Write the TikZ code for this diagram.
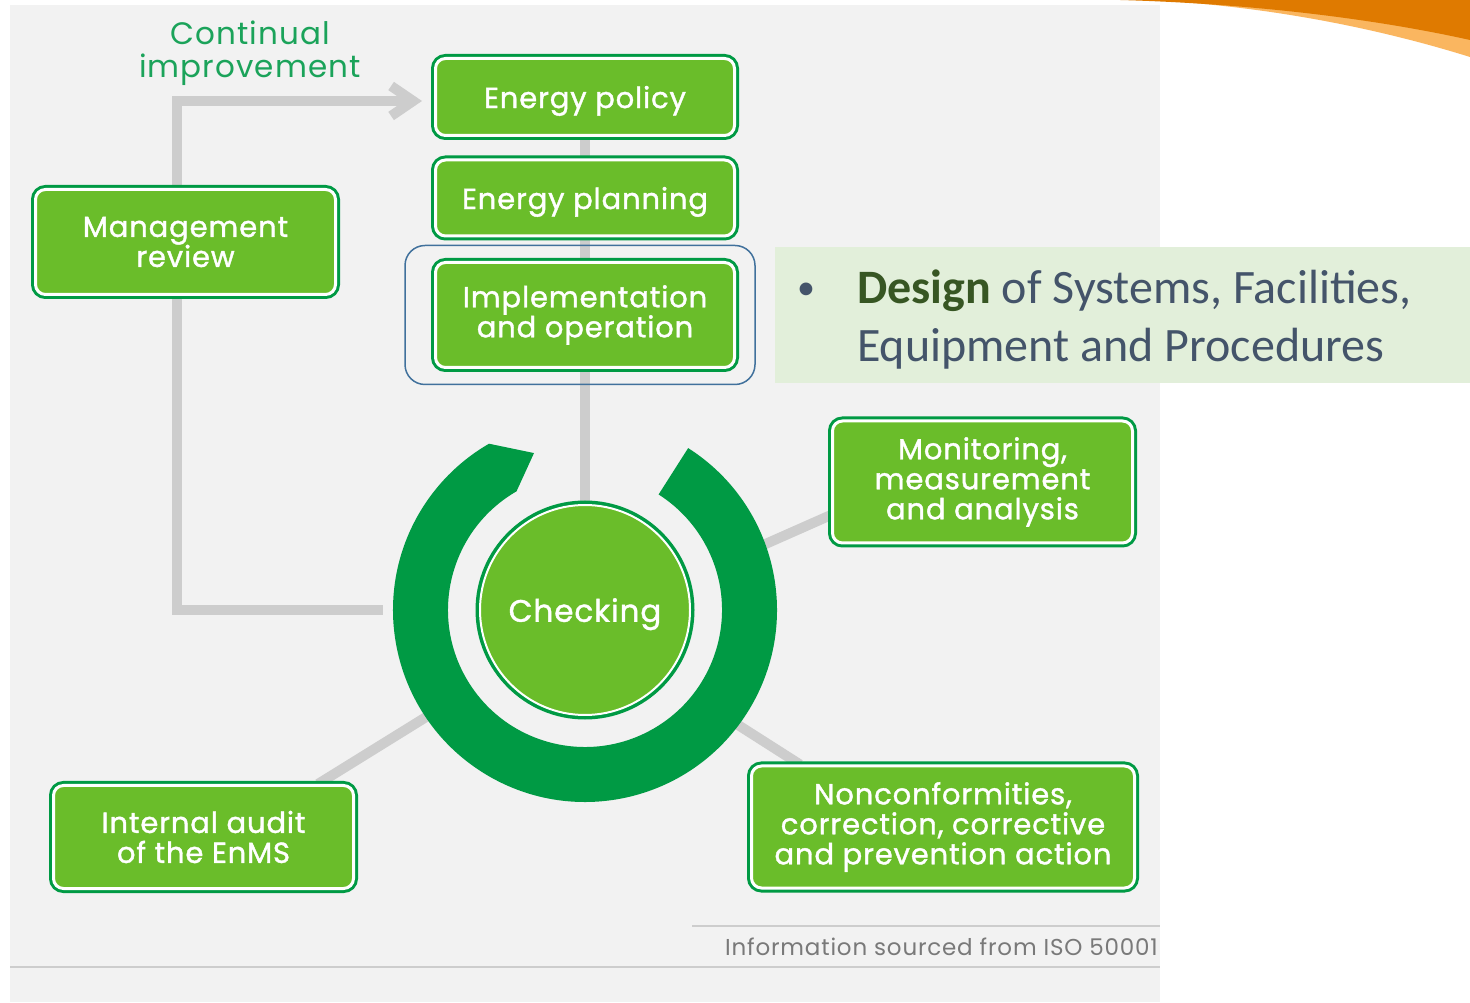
\documentclass[tikz,border=0pt]{standalone}
\usepackage{fontspec}
\setmainfont{Poppins}
\newfontfamily\boxfont{Poppins}[FakeBold=1.3,LetterSpace=3]
\newfontfamily\thinfont{Poppins}[LetterSpace=3.5]
\newfontfamily\slidefont{Carlito}
\usetikzlibrary{calc,arrows.meta,backgrounds}
\definecolor{boxgreen}{HTML}{6ABD2A}
\definecolor{ringgreen}{HTML}{009A44}
\definecolor{panelgray}{HTML}{F2F2F2}
\definecolor{linkgray}{HTML}{CDCDCD}
\definecolor{notegreen}{HTML}{E2EFDA}
\definecolor{olivex}{HTML}{375623}
\definecolor{slatex}{HTML}{44546A}
\definecolor{framex}{HTML}{41719C}
\definecolor{orangex}{HTML}{DF7A00}
\definecolor{lightorangex}{HTML}{FAB660}
\definecolor{labelgreen}{HTML}{1BA35A}
\tikzset{
  stage/.style={preaction={draw=ringgreen,line width=9pt},draw=white,line width=3pt,
    fill=boxgreen,rounded corners=10pt,text=white,align=center,inner sep=0pt,
    font=\boxfont\fontsize{29}{30}\selectfont},
  link/.style={draw=linkgray,line width=10pt},
  rule/.style={draw=linkgray,line width=1.5pt}
}

\begin{document}
\begin{tikzpicture}[x=1pt,y=1pt]
\useasboundingbox (0,0) rectangle (1470,1002);
\begin{scope}[on background layer]
\fill[white] (0,0) rectangle (1470,1002);
\fill[panelgray] (10,0) rectangle (1160,997);
\end{scope}

% orange swoosh, top right
\fill[lightorangex] (1150,1002) .. controls (1280,995) and (1390,970) .. (1470,945) -- (1470,1002) -- cycle;
\fill[orangex] (1120,1002) .. controls (1260,998) and (1380,982) .. (1470,962) -- (1470,1002) -- cycle;

% footer
\draw[rule] (692,76) -- (1160,76);
\draw[rule] (10,35) -- (1160,35);
\node[anchor=base east,text=gray!95!black,inner sep=0pt,font=\thinfont\fontsize{23}{25}\selectfont] (src) at (1158,47) {Information sourced from ISO 50001};

\node[text=labelgreen,align=center,inner sep=0pt,font=\thinfont\fontsize{31}{33}\selectfont] (cont) at (250,949) {Continual\\improvement};

% stages
\node[stage,minimum width=299pt,minimum height=77pt,text depth=0pt] (policy) at (585,905) {Energy policy};
\node[stage,minimum width=299pt,minimum height=76pt,text depth=0pt] (plan) at (585,804) {Energy planning};
\node[stage,minimum width=299pt,minimum height=105pt] (impl) at (585,687) {Implementation\\and operation};
\node[stage,minimum width=300pt,minimum height=105pt] (mgmt) at (185.5,760) {Management\\review};
\node[stage,minimum width=300pt,minimum height=122pt] (mon) at (982.5,520) {Monitoring,\\measurement\\and analysis};
\node[stage,minimum width=300pt,minimum height=103pt] (audit) at (203.5,165) {Internal audit\\of the EnMS};
\node[stage,minimum width=383pt,minimum height=122pt] (noncon) at (943,175) {Nonconformities,\\correction, corrective\\and prevention action};

\draw[framex,line width=1.5pt,rounded corners=20pt] ($(impl.south west)+(-29,-15.5)$) rectangle ($(impl.north east)+(19,15.5)$);

% checking ring with its arrow end
\coordinate (ring) at (585,392);
\fill[ringgreen] ($(ring)+(57.5:192)$) arc[start angle=57.5,end angle=-240,radius=192]
  -- ($(ring)+(-252:165)$) -- ($(ring)+(-240:137)$)
  arc[start angle=-240,end angle=57.5,radius=137] -- cycle;
\node[stage,circle,preaction={draw=ringgreen,line width=6pt},line width=2pt,minimum size=210pt,
  text depth=0pt,font=\boxfont\fontsize{31}{33}\selectfont] (check) at (ring) {Checking};

\begin{scope}[on background layer]
\draw[link] (policy.south) -- (check.north);
\draw[link,-{Straight Barb[length=22pt,width=30pt]}] ($(mgmt.north)+(-8.5,0)$) |- ($(policy.west)+(-12,-4)$);
\draw[link] ($(mgmt.south)+(-8.5,0)$) |- ($(ring)+(180:202)$);
\draw[link] ($(ring)+(214:188)$) -- ($(audit.north)+(114.5,0)$);
\draw[link] ($(ring)+(20:188)$) -- ($(mon.west)+(0,-33)$);
\draw[link] ($(ring)+(-37:188)$) -- ($(noncon.north)+(-143,0)$);
\end{scope}

% note on the right
\fill[notegreen] (775,619) rectangle (1470,755);
\begin{scope}[font=\slidefont\fontsize{48}{58}\selectfont,inner sep=0pt,text=slatex]
\node[anchor=base west,font=\slidefont\fontsize{36}{40}\selectfont] (dot) at (797,702) {•};
\node[anchor=base west] (line1) at (857,698) {\textcolor{olivex}{\textbf{Design}} of Systems, Facilities,};
\node[anchor=base west] (line2) at (857,640) {Equipment and Procedures};
\end{scope}
\end{tikzpicture}
\end{document}
